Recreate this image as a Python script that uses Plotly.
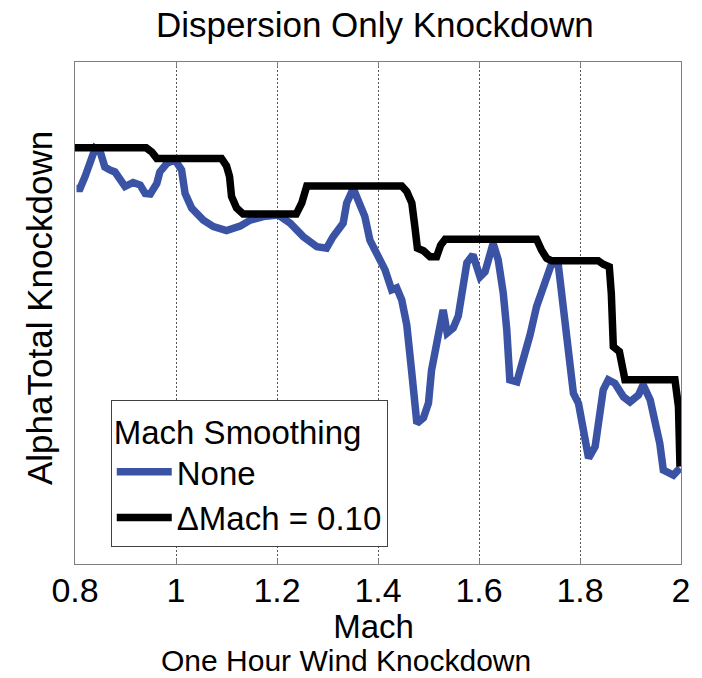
import plotly.graph_objects as go

# ---- data ----
mach_none = [0.803, 0.810, 0.820, 0.833, 0.840, 0.850, 0.859, 0.869, 0.879, 0.899,
             0.915, 0.929, 0.939, 0.949, 0.962, 0.968, 0.982, 0.998, 1.011, 1.018,
             1.031, 1.054, 1.074, 1.100, 1.127, 1.147, 1.173, 1.203, 1.226, 1.252,
             1.279, 1.298, 1.311, 1.331, 1.338, 1.351, 1.361, 1.374, 1.384, 1.397,
             1.414, 1.427, 1.437, 1.447, 1.457, 1.467, 1.477, 1.490, 1.500, 1.506,
             1.516, 1.529, 1.537, 1.549, 1.559, 1.566, 1.576, 1.588, 1.602, 1.612,
             1.628, 1.638, 1.648, 1.655, 1.661, 1.675, 1.688, 1.701, 1.714, 1.727,
             1.744, 1.757, 1.767, 1.780, 1.787, 1.797, 1.807, 1.817, 1.830, 1.836,
             1.846, 1.856, 1.869, 1.886, 1.899, 1.916, 1.925, 1.939, 1.949, 1.958,
             1.965, 1.985, 1.998]
knock_none = [0.748, 0.748, 0.772, 0.805, 0.828, 0.821, 0.791, 0.785, 0.781, 0.752,
              0.760, 0.755, 0.738, 0.737, 0.758, 0.781, 0.798, 0.805, 0.785, 0.738,
              0.709, 0.685, 0.672, 0.664, 0.673, 0.685, 0.692, 0.695, 0.679, 0.652,
              0.632, 0.629, 0.652, 0.679, 0.719, 0.748, 0.725, 0.692, 0.645, 0.619,
              0.586, 0.546, 0.550, 0.526, 0.476, 0.380, 0.280, 0.291, 0.321, 0.386,
              0.446, 0.506, 0.460, 0.470, 0.494, 0.546, 0.600, 0.616, 0.572, 0.582,
              0.639, 0.606, 0.540, 0.466, 0.367, 0.363, 0.406, 0.456, 0.513, 0.552,
              0.599, 0.596, 0.513, 0.393, 0.340, 0.320, 0.254, 0.211, 0.234, 0.287,
              0.347, 0.367, 0.360, 0.333, 0.323, 0.337, 0.357, 0.327, 0.287, 0.240,
              0.187, 0.177, 0.191]

mach_smooth = [0.800, 0.941, 0.952, 0.962, 1.090, 1.100, 1.106, 1.110, 1.120, 1.133,
               1.238, 1.249, 1.259, 1.447, 1.457, 1.467, 1.473, 1.478, 1.490, 1.503,
               1.516, 1.524, 1.533, 1.714, 1.724, 1.734, 1.744, 1.836, 1.846, 1.858,
               1.862, 1.865, 1.866, 1.878, 1.884, 1.889, 1.988, 1.995, 1.998]
knock_smooth = [0.829, 0.829, 0.821, 0.808, 0.808, 0.793, 0.772, 0.732, 0.709, 0.697,
                0.697, 0.719, 0.753, 0.753, 0.742, 0.719, 0.672, 0.629, 0.624, 0.612,
                0.612, 0.635, 0.647, 0.647, 0.625, 0.609, 0.604, 0.604, 0.597, 0.592,
                0.539, 0.466, 0.433, 0.423, 0.393, 0.367, 0.367, 0.313, 0.194]

x_ticks = [0.8, 1.0, 1.2, 1.4, 1.6, 1.8, 2.0]
x_tick_labels = ["0.8", "1", "1.2", "1.4", "1.6", "1.8", "2"]

FONT = "Liberation Sans, Arial, Helvetica, sans-serif"

fig = go.Figure()
fig.add_trace(go.Scatter(x=mach_none, y=knock_none, mode="lines", name="None",
                         line=dict(color="#3a53a4", width=7.5)))
fig.add_trace(go.Scatter(x=mach_smooth, y=knock_smooth, mode="lines",
                         name="\u0394Mach = 0.10",
                         line=dict(color="#000000", width=7.5)))

xlabel_text = ("<span style='font-size:33px'>" + "\u00a0" * 6 + "Mach</span><br>"
               "<span style='font-size:30px'>One Hour Wind Knockdown</span>")

fig.update_layout(
    width=702, height=678,
    margin=dict(l=75, r=21, t=62, b=114),
    paper_bgcolor="white", plot_bgcolor="white",
    font=dict(family=FONT, color="black", size=34),
    showlegend=True,
    legend=dict(
        x=0.059, y=0.327, xanchor="left", yanchor="top",
        bgcolor="white", bordercolor="#404040", borderwidth=1,
        title=dict(text="Mach Smoothing", font=dict(size=33)),
        font=dict(size=33), tracegroupgap=0, itemwidth=55,
    ),
    xaxis=dict(
        range=[0.8, 2.0], tickvals=x_ticks, ticktext=x_tick_labels,
        showgrid=True, gridcolor="#555555", griddash="2px,2px", gridwidth=1,
        showline=True, linecolor="#7f7f7f", linewidth=1, mirror="ticks",
        ticks="inside", ticklen=5, tickcolor="#7f7f7f",
        tickfont=dict(size=34), zeroline=False, ticklabelstandoff=-4,
    ),
    yaxis=dict(
        range=[0, 1], showticklabels=False, ticks="", showgrid=False,
        showline=True, linecolor="#7f7f7f", linewidth=1, mirror=True,
        zeroline=False,
    ),
    annotations=[
        dict(text="Dispersion Only Knockdown", xref="paper", yref="paper",
             x=0.495, y=1.0, yshift=38, showarrow=False,
             xanchor="center", yanchor="middle", font=dict(size=35)),
        dict(text=xlabel_text, xref="paper", yref="paper",
             x=0.448, y=0, yshift=-78, showarrow=False, xanchor="center",
             yanchor="middle", align="center", font=dict(size=25)),
        dict(text="AlphaTotal Knockdown", xref="paper", yref="paper",
             x=0, y=0.5, xshift=-36, yshift=5, textangle=-90, showarrow=False,
             xanchor="center", yanchor="middle", font=dict(size=35)),
    ],
)

fig.write_html("out.html", config={"displayModeBar": False},
               post_script="document.body.style.margin='0';")
